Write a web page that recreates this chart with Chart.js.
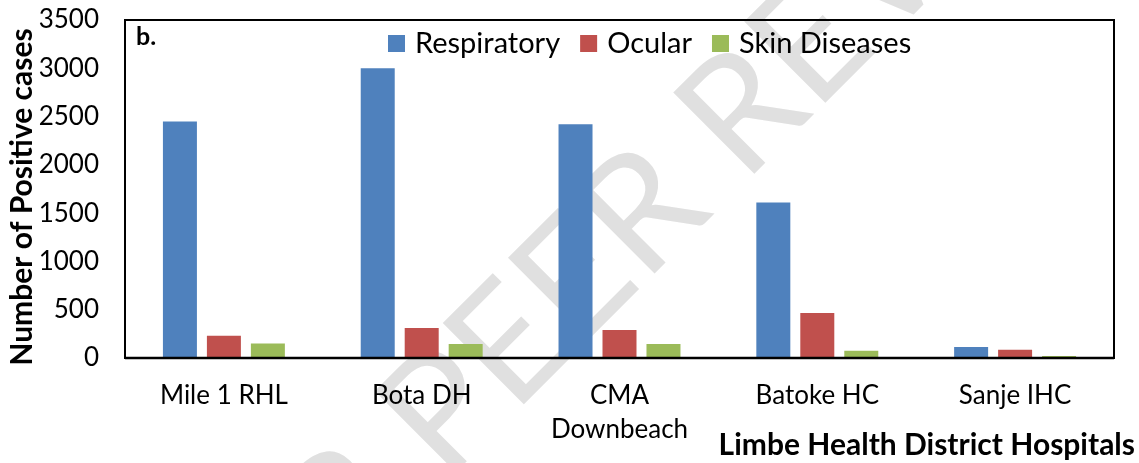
<!DOCTYPE html>
<html>
<head>
<meta charset="utf-8">
<script src="https://cdn.jsdelivr.net/npm/chart.js@4"></script>
<style>
  html, body { margin: 0; padding: 0; background: #fff; }
  #wrap { width: 1139px; height: 463px; }
  canvas { background: #fff; }
</style>
</head>
<body>
<div id="wrap"><canvas id="chart"></canvas></div>
<script>
// data
const hospitals = ['Mile 1 RHL', 'Bota DH', ['CMA', 'Downbeach'], 'Batoke HC', 'Sanje IHC'];
const respiratory = [2450, 3000, 2420, 1610, 115];
const ocular = [230, 310, 290, 465, 85];
const skinDiseases = [150, 145, 145, 75, 20];
const yTicks = [0, 500, 1000, 1500, 2000, 2500, 3000, 3500];

const seriesNames = ['Respiratory', 'Ocular', 'Skin Diseases'];
const seriesColors = ['#4F81BD', '#C0504D', '#9BBB59'];

const FONT = 'Lato, "Open Sans", sans-serif';

// grey watermark behind everything
const watermark = {
    id: 'watermark',
    beforeDraw(chart) {
        const ctx = chart.ctx;
        ctx.save();
        ctx.translate(744, 184);
        ctx.rotate(-Math.PI / 4);
        ctx.font = '160px ' + FONT;
        ctx.fillStyle = '#e0e0e0';
        ctx.textBaseline = 'alphabetic';
        ctx.textAlign = 'left';
        ctx.fillText('REVIEW', 0, 0);
        ctx.textAlign = 'right';
        ctx.fillText('UNDER PEER ', 0, 0);
        ctx.restore();
    }
};

// plot frame, legend, panel label and axis titles
const decorations = {
    id: 'decorations',
    afterDatasetsDraw(chart) {
        const ctx = chart.ctx;
        const a = chart.chartArea;
        ctx.save();
        ctx.strokeStyle = '#000';
        ctx.lineWidth = 2;
        ctx.strokeRect(a.left, a.top, a.right - a.left, a.bottom - a.top);
        ctx.lineWidth = 2.5;
        ctx.beginPath();
        ctx.moveTo(a.left, a.bottom);
        ctx.lineTo(a.right, a.bottom);
        ctx.stroke();
        ctx.restore();
    },
    afterDraw(chart) {
        const ctx = chart.ctx;
        const a = chart.chartArea;
        ctx.save();
        ctx.fillStyle = '#000';
        ctx.textBaseline = 'middle';

        ctx.font = 'bold 25px ' + FONT;
        ctx.textAlign = 'left';
        ctx.fillText('b.', a.left + 11, a.top + 17);

        // legend
        ctx.font = '29px ' + FONT;
        let x = 388;
        chart.data.datasets.forEach(ds => {
            ctx.fillStyle = ds.backgroundColor;
            ctx.fillRect(x, a.top + 15, 17, 17);
            ctx.fillStyle = '#000';
            ctx.fillText(ds.label, x + 27, a.top + 24);
            x += 27 + ctx.measureText(ds.label).width + 20;
        });

        ctx.font = 'bold 30px ' + FONT;
        ctx.textAlign = 'right';
        ctx.fillText('Limbe Health District Hospitals', 1135, 445);

        // y title
        ctx.save();
        ctx.translate(22, 197);
        ctx.rotate(-Math.PI / 2);
        ctx.textAlign = 'center';
        ctx.font = 'bold 30px ' + FONT;
        ctx.fillText('Number of Positive cases', 0, 0);
        ctx.restore();

        ctx.restore();
    }
};

new Chart(document.getElementById('chart'), {
    type: 'bar',
    data: {
        labels: hospitals,
        datasets: [
            { label: seriesNames[0], data: respiratory, backgroundColor: seriesColors[0] },
            { label: seriesNames[1], data: ocular, backgroundColor: seriesColors[1] },
            { label: seriesNames[2], data: skinDiseases, backgroundColor: seriesColors[2] }
        ]
    },
    options: {
        responsive: true,
        maintainAspectRatio: false,
        animation: false,
        devicePixelRatio: 1,
        layout: { padding: { top: 20, right: 25, left: 0, bottom: 0 } },
        datasets: {
            bar: { barPercentage: 0.773, categoryPercentage: 0.667 }
        },
        plugins: {
            legend: { display: false },
            tooltip: { enabled: false }
        },
        scales: {
            x: {
                grid: { display: false, drawTicks: false },
                border: { display: false },
                ticks: {
                    color: '#000',
                    padding: 21,
                    maxRotation: 0,
                    font: { family: FONT, size: 26, lineHeight: 1.3 }
                },
                afterFit(scale) {
                    scale.height = 105;
                    scale.paddingLeft = 0;
                    scale.paddingRight = 0;
                }
            },
            y: {
                min: 0,
                max: 3500,
                grid: { display: false, drawTicks: false },
                border: { display: false },
                afterBuildTicks(scale) {
                    scale.ticks = yTicks.map(v => ({ value: v }));
                },
                ticks: {
                    color: '#000',
                    padding: 26,
                    font: { family: FONT, size: 26 },
                    callback: v => String(v)
                },
                afterFit(scale) {
                    scale.width = 125;
                    scale.paddingTop = 0;
                    scale.paddingBottom = 0;
                }
            }
        }
    },
    plugins: [watermark, decorations]
});
</script>
</body>
</html>
